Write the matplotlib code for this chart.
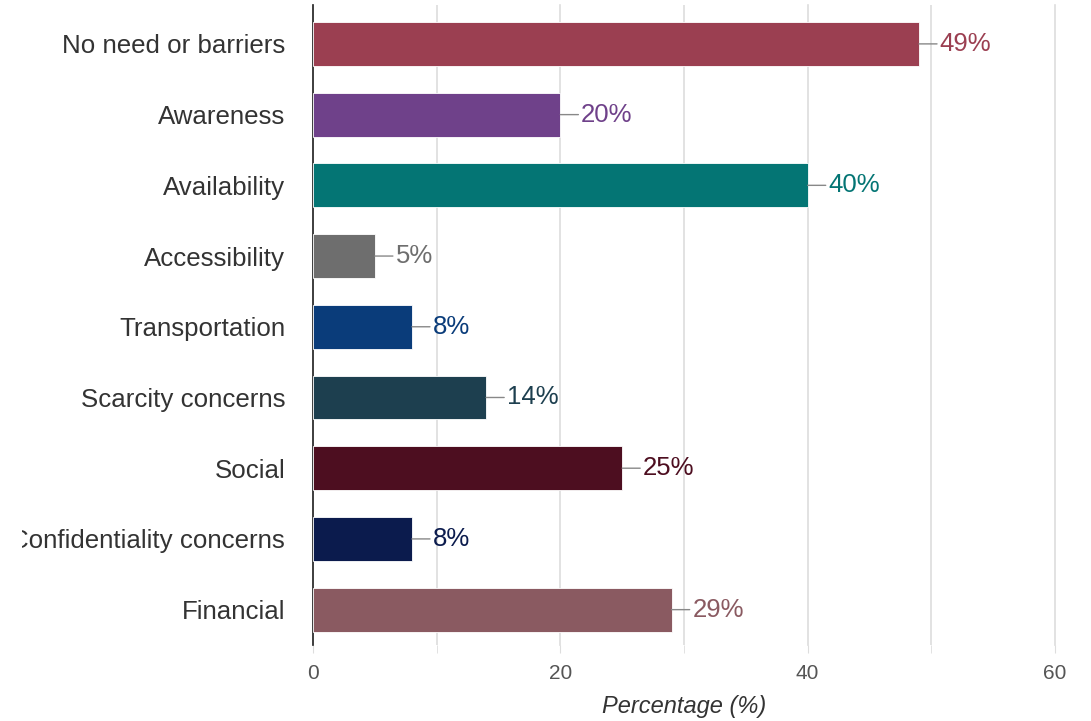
import matplotlib.pyplot as plt
from matplotlib.transforms import Bbox

plt.rcParams['font.family'] = ['Liberation Sans', 'DejaVu Sans']

categories = ['No need or barriers', 'Awareness', 'Availability', 'Accessibility',
              'Transportation', 'Scarcity concerns', 'Social',
              'Confidentiality concerns', 'Financial']
values = [49, 20, 40, 5, 8, 14, 25, 8, 29]
colors = ['#9B3F51', '#6F418A', '#047574', '#6E6E6E', '#0A3C7A',
          '#1D3F4F', '#4D0E20', '#0B1B4D', '#8A5A61']

fig = plt.figure(figsize=(10.91, 7.21), dpi=100)
ax = fig.add_axes([313 / 1091, 1 - 645 / 721, (1055 - 313) / 1091, 640 / 721])

pos = list(range(len(categories)))
ax.barh(pos, values, height=0.62, color=colors, edgecolor='white', linewidth=0.6, zorder=3)

# value labels with a short leader line
for y, v, c in zip(pos, values, colors):
    ax.annotate(f'{v}%', xy=(v, y), xytext=(15, 0), textcoords='offset points',
                va='center', ha='left', fontsize=18.5, color=c,
                arrowprops=dict(arrowstyle='-', color='#888888', lw=1,
                                shrinkA=0, shrinkB=0))

ax.set_xlim(0, 60)
ax.set_ylim(8.5, -0.55)
ax.set_yticks(pos)
ax.set_yticklabels(categories, fontsize=18.6, color='#333333')
ax.set_xticks([0, 20, 40, 60])
ax.set_xticks([10, 30, 50], minor=True)
ax.tick_params(axis='x', which='both', length=6, color='#dddddd', labelsize=15,
               labelcolor='#555555', pad=8)
ax.tick_params(axis='y', length=0, pad=20)
ax.grid(axis='x', which='both', color='#dddddd', lw=1.2, zorder=0)
for gl in ax.get_xgridlines():
    gl.set_clip_on(False)
ax.set_xlabel('Percentage (%)', fontsize=17, style='italic', color='#333333', labelpad=8)

for s in ['top', 'right', 'bottom']:
    ax.spines[s].set_visible(False)
ax.spines['left'].set_color('#222222')
ax.spines['left'].set_linewidth(1.2)

# the left labels are cut off near the left edge in the original
clip = Bbox.from_extents(22, 0, 1091, 721)
for lab in ax.get_yticklabels():
    lab.set_clip_box(clip)
    lab.set_clip_on(True)

fig.savefig('out.png', dpi=100)
